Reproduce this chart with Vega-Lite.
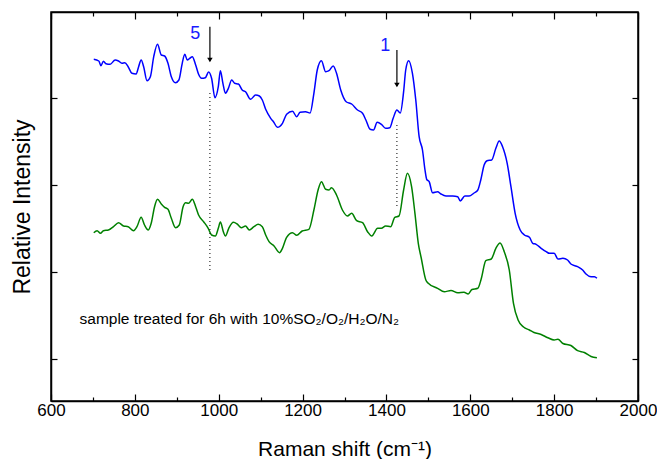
{
  "$schema": "https://vega.github.io/schema/vega-lite/v6.json",
  "width": 587,
  "height": 389,
  "autosize": {"type": "none"},
  "padding": {"left": 51, "top": 12, "right": 19, "bottom": 58},
  "background": "white",
  "config": {
    "font": "Liberation Sans",
    "view": {"stroke": "black", "strokeWidth": 1.5},
    "axis": {"domainColor": "black", "domainWidth": 1.5, "tickColor": "black", "tickWidth": 1.2, "labelColor": "black", "titleColor": "black", "grid": false, "labelFont": "Liberation Sans", "titleFont": "Liberation Sans", "titleFontWeight": "normal"}
  },
  "datasets": {
    "spectra": [
      {"s":"a","x":702,"y":341.7},{"s":"a","x":714,"y":340},{"s":"a","x":719,"y":335.3},{"s":"a","x":725,"y":339.7},{"s":"a","x":731,"y":337.3},{"s":"a","x":741,"y":336.7},{"s":"a","x":753,"y":341},{"s":"a","x":761,"y":340},{"s":"a","x":769,"y":337.7},{"s":"a","x":776,"y":338.3},{"s":"a","x":784,"y":334.3},{"s":"a","x":793,"y":327.7},{"s":"a","x":803,"y":327},{"s":"a","x":809,"y":334.3},{"s":"a","x":815,"y":341},{"s":"a","x":821,"y":334.3},{"s":"a","x":829,"y":320.3},{"s":"a","x":837,"y":324.3},{"s":"a","x":845,"y":344.3},{"s":"a","x":854,"y":356.7},{"s":"a","x":863,"y":346},{"s":"a","x":871,"y":345},{"s":"a","x":879,"y":337.7},{"s":"a","x":887,"y":324.3},{"s":"a","x":897,"y":318.3},{"s":"a","x":905,"y":321},{"s":"a","x":913,"y":337.7},{"s":"a","x":919,"y":346.7},{"s":"a","x":925,"y":341},{"s":"a","x":931,"y":342.7},{"s":"a","x":937,"y":344.3},{"s":"a","x":945,"y":336},{"s":"a","x":952,"y":326.7},{"s":"a","x":959,"y":322.7},{"s":"a","x":968,"y":323.3},{"s":"a","x":976,"y":329},{"s":"a","x":983,"y":322.7},{"s":"a","x":991,"y":303.3},{"s":"a","x":999,"y":314.3},{"s":"a","x":1004,"y":330.3},{"s":"a","x":1010,"y":317.7},{"s":"a","x":1016,"y":307.7},{"s":"a","x":1023,"y":312.7},{"s":"a","x":1031,"y":321},{"s":"a","x":1038,"y":317.7},{"s":"a","x":1047,"y":317},{"s":"a","x":1056,"y":311},{"s":"a","x":1064,"y":309.3},{"s":"a","x":1076,"y":301.7},{"s":"a","x":1088,"y":306},{"s":"a","x":1097,"y":305},{"s":"a","x":1104,"y":301},{"s":"a","x":1112,"y":291.7},{"s":"a","x":1124,"y":282.7},{"s":"a","x":1131,"y":279},{"s":"a","x":1140,"y":273.7},{"s":"a","x":1152,"y":277.7},{"s":"a","x":1162,"y":286.7},{"s":"a","x":1176,"y":289.7},{"s":"a","x":1186,"y":284.3},{"s":"a","x":1194,"y":288.7},{"s":"a","x":1207,"y":289.3},{"s":"a","x":1218,"y":288},{"s":"a","x":1227,"y":307.7},{"s":"a","x":1235,"y":331},{"s":"a","x":1245,"y":340.3},{"s":"a","x":1255,"y":329.3},{"s":"a","x":1263,"y":330.3},{"s":"a","x":1273,"y":335},{"s":"a","x":1281,"y":327.7},{"s":"a","x":1291,"y":311},{"s":"a","x":1304,"y":299.3},{"s":"a","x":1317,"y":297},{"s":"a","x":1331,"y":291},{"s":"a","x":1343,"y":287.7},{"s":"a","x":1351,"y":281},{"s":"a","x":1361,"y":271.7},{"s":"a","x":1369,"y":271},{"s":"a","x":1378,"y":278.7},{"s":"a","x":1388,"y":276.7},{"s":"a","x":1398,"y":272.7},{"s":"a","x":1408,"y":273.3},{"s":"a","x":1416,"y":282.7},{"s":"a","x":1425,"y":291},{"s":"a","x":1433,"y":288},{"s":"a","x":1441,"y":309.3},{"s":"a","x":1446,"y":331},{"s":"a","x":1453,"y":340.3},{"s":"a","x":1462,"y":327.7},{"s":"a","x":1470,"y":301},{"s":"a","x":1478,"y":264.3},{"s":"a","x":1486,"y":251},{"s":"a","x":1492,"y":231},{"s":"a","x":1496,"y":221.7},{"s":"a","x":1502,"y":219.3},{"s":"a","x":1510,"y":208.3},{"s":"a","x":1522,"y":209.3},{"s":"a","x":1530,"y":207},{"s":"a","x":1542,"y":205},{"s":"a","x":1558,"y":205},{"s":"a","x":1570,"y":204.3},{"s":"a","x":1576,"y":200},{"s":"a","x":1587,"y":205},{"s":"a","x":1597,"y":205},{"s":"a","x":1609,"y":208},{"s":"a","x":1618,"y":211},{"s":"a","x":1625,"y":221},{"s":"a","x":1633,"y":236},{"s":"a","x":1640,"y":240.3},{"s":"a","x":1651,"y":241},{"s":"a","x":1661,"y":252.7},{"s":"a","x":1669,"y":260},{"s":"a","x":1677,"y":254.3},{"s":"a","x":1688,"y":237.7},{"s":"a","x":1697,"y":214.3},{"s":"a","x":1707,"y":187.7},{"s":"a","x":1719,"y":171},{"s":"a","x":1729,"y":166},{"s":"a","x":1741,"y":163.7},{"s":"a","x":1749,"y":157.7},{"s":"a","x":1757,"y":156.7},{"s":"a","x":1769,"y":152.7},{"s":"a","x":1781,"y":149.3},{"s":"a","x":1789,"y":147.7},{"s":"a","x":1800,"y":147.7},{"s":"a","x":1809,"y":142},{"s":"a","x":1821,"y":142.7},{"s":"a","x":1832,"y":141},{"s":"a","x":1840,"y":137},{"s":"a","x":1856,"y":134.3},{"s":"a","x":1868,"y":131},{"s":"a","x":1876,"y":127},{"s":"a","x":1888,"y":124.3},{"s":"a","x":1896,"y":124.3},{"s":"a","x":1902,"y":122.7},
      {"s":"b","x":702,"y":168.3},{"s":"b","x":710,"y":170.3},{"s":"b","x":718,"y":167.7},{"s":"b","x":725,"y":170.3},{"s":"b","x":737,"y":171},{"s":"b","x":749,"y":174.3},{"s":"b","x":761,"y":178.3},{"s":"b","x":773,"y":175},{"s":"b","x":784,"y":174.3},{"s":"b","x":797,"y":170.3},{"s":"b","x":805,"y":174.3},{"s":"b","x":815,"y":183.7},{"s":"b","x":823,"y":176},{"s":"b","x":832,"y":171},{"s":"b","x":839,"y":177.7},{"s":"b","x":847,"y":194.3},{"s":"b","x":854,"y":201.7},{"s":"b","x":863,"y":197},{"s":"b","x":871,"y":193.7},{"s":"b","x":879,"y":191.7},{"s":"b","x":887,"y":182.7},{"s":"b","x":897,"y":173.3},{"s":"b","x":906,"y":176},{"s":"b","x":915,"y":194.3},{"s":"b","x":921,"y":198.3},{"s":"b","x":928,"y":197.7},{"s":"b","x":937,"y":201.7},{"s":"b","x":945,"y":194.3},{"s":"b","x":952,"y":186},{"s":"b","x":964,"y":179.3},{"s":"b","x":975,"y":172.7},{"s":"b","x":983,"y":166},{"s":"b","x":992,"y":165},{"s":"b","x":999,"y":172.7},{"s":"b","x":1004,"y":179},{"s":"b","x":1011,"y":169.3},{"s":"b","x":1016,"y":165},{"s":"b","x":1024,"y":172.7},{"s":"b","x":1035,"y":178.7},{"s":"b","x":1044,"y":177},{"s":"b","x":1054,"y":173.3},{"s":"b","x":1064,"y":175},{"s":"b","x":1073,"y":171},{"s":"b","x":1084,"y":174.3},{"s":"b","x":1094,"y":176.7},{"s":"b","x":1104,"y":174.3},{"s":"b","x":1112,"y":166},{"s":"b","x":1120,"y":159.3},{"s":"b","x":1132,"y":155},{"s":"b","x":1145,"y":148.3},{"s":"b","x":1152,"y":152.7},{"s":"b","x":1162,"y":163.7},{"s":"b","x":1176,"y":168.3},{"s":"b","x":1186,"y":165.7},{"s":"b","x":1199,"y":170},{"s":"b","x":1215,"y":171.7},{"s":"b","x":1227,"y":191},{"s":"b","x":1237,"y":211},{"s":"b","x":1245,"y":219.3},{"s":"b","x":1255,"y":211.7},{"s":"b","x":1263,"y":211},{"s":"b","x":1269,"y":213.3},{"s":"b","x":1281,"y":206},{"s":"b","x":1295,"y":191},{"s":"b","x":1307,"y":185},{"s":"b","x":1317,"y":187.7},{"s":"b","x":1329,"y":180.3},{"s":"b","x":1343,"y":178.3},{"s":"b","x":1355,"y":169.3},{"s":"b","x":1365,"y":165},{"s":"b","x":1379,"y":172.7},{"s":"b","x":1388,"y":172.7},{"s":"b","x":1398,"y":175},{"s":"b","x":1410,"y":174.3},{"s":"b","x":1420,"y":183.7},{"s":"b","x":1430,"y":185},{"s":"b","x":1441,"y":211},{"s":"b","x":1450,"y":227.7},{"s":"b","x":1460,"y":214.3},{"s":"b","x":1468,"y":187.7},{"s":"b","x":1476,"y":157.7},{"s":"b","x":1483,"y":143},{"s":"b","x":1494,"y":121},{"s":"b","x":1499,"y":118},{"s":"b","x":1522,"y":112.7},{"s":"b","x":1538,"y":109.3},{"s":"b","x":1554,"y":110.5},{"s":"b","x":1570,"y":108.3},{"s":"b","x":1585,"y":108.7},{"s":"b","x":1595,"y":107},{"s":"b","x":1604,"y":111.5},{"s":"b","x":1618,"y":112.7},{"s":"b","x":1626,"y":122},{"s":"b","x":1637,"y":140.3},{"s":"b","x":1650,"y":142},{"s":"b","x":1661,"y":152.7},{"s":"b","x":1671,"y":158},{"s":"b","x":1681,"y":149.3},{"s":"b","x":1693,"y":131},{"s":"b","x":1703,"y":97.7},{"s":"b","x":1714,"y":81},{"s":"b","x":1727,"y":74},{"s":"b","x":1741,"y":71},{"s":"b","x":1752,"y":68.5},{"s":"b","x":1769,"y":66.5},{"s":"b","x":1785,"y":63.3},{"s":"b","x":1800,"y":61},{"s":"b","x":1809,"y":61.7},{"s":"b","x":1821,"y":57.5},{"s":"b","x":1840,"y":55.5},{"s":"b","x":1856,"y":50.3},{"s":"b","x":1872,"y":48.5},{"s":"b","x":1888,"y":44.5},{"s":"b","x":1902,"y":43.3}
    ],
    "dotted": [{"x":979,"y1":131,"y2":311},{"x":1425,"y1":195,"y2":279}],
    "arrows": [{"x":979,"y1":340,"y2":374.3},{"x":1425,"y1":315,"y2":351}],
    "heads": [{"x":979,"y":341},{"x":1425,"y":316}],
    "peaks": [{"label":"5","x":944,"y":367},{"label":"1","x":1397,"y":355}],
    "note": [{"text":"sample treated for 6h with 10%SO₂/O₂/H₂O/N₂","x":668,"y":82}]
  },
  "resolve": {"axis": {"x": "independent", "y": "independent"}},
  "layer": [
    {
      "data": {"name": "spectra"},
      "mark": {"type": "line", "strokeWidth": 1.5, "interpolate": "monotone"},
      "encoding": {
        "x": {"field": "x", "type": "quantitative", "scale": {"domain": [600, 2000], "nice": false},
          "axis": {"orient": "bottom", "values": [600,700,800,900,1000,1100,1200,1300,1400,1500,1600,1700,1800,1900,2000],
            "labelExpr": "datum.value % 200 === 0 ? datum.label : ''", "format": "d",
            "tickSize": {"condition": {"test": "datum.value % 200 === 0", "value": -7}, "value": -4},
            "labelPadding": 8, "labelFontSize": 17, "labelFlush": false,
            "title": "Raman shift (cm⁻¹)", "titleFontSize": 21, "titlePadding": 20}},
        "y": {"field": "y", "type": "quantitative", "scale": {"domain": [0, 389], "nice": false, "zero": false},
          "axis": {"orient": "left", "values": [42.5,129.5,216.5,303.5], "labels": false, "tickSize": -6,
            "title": "Relative Intensity", "titleFontSize": 23, "titlePadding": 16}},
        "color": {"field": "s", "type": "nominal", "scale": {"domain": ["a","b"], "range": ["#0000ff", "#008000"]}, "legend": null}
      }
    },
    {
      "data": {"name": "dotted"},
      "mark": {"type": "rule", "strokeDash": [1, 3], "color": "black", "strokeWidth": 1},
      "encoding": {
        "x": {"field": "x", "type": "quantitative",
          "axis": {"orient": "top", "values": [600,700,800,900,1000,1100,1200,1300,1400,1500,1600,1700,1800,1900,2000], "labels": false, "title": null,
            "tickSize": {"condition": {"test": "datum.value % 200 === 0", "value": -7}, "value": -4}}},
        "y": {"field": "y1", "type": "quantitative",
          "axis": {"orient": "right", "values": [42.5,129.5,216.5,303.5], "labels": false, "title": null, "tickSize": -6}},
        "y2": {"field": "y2"}
      }
    },
    {
      "data": {"name": "arrows"},
      "mark": {"type": "rule", "color": "black", "strokeWidth": 1.2},
      "encoding": {
        "x": {"field": "x", "type": "quantitative", "axis": null},
        "y": {"field": "y1", "type": "quantitative", "axis": null},
        "y2": {"field": "y2"}
      }
    },
    {
      "data": {"name": "heads"},
      "mark": {"type": "point", "shape": "triangle-down", "filled": true, "color": "black", "size": 30, "opacity": 1},
      "encoding": {
        "x": {"field": "x", "type": "quantitative", "axis": null},
        "y": {"field": "y", "type": "quantitative", "axis": null}
      }
    },
    {
      "data": {"name": "peaks"},
      "mark": {"type": "text", "color": "#1a1aff", "fontSize": 18, "font": "Liberation Sans", "align": "center", "baseline": "middle"},
      "encoding": {
        "x": {"field": "x", "type": "quantitative", "axis": null},
        "y": {"field": "y", "type": "quantitative", "axis": null},
        "text": {"field": "label"}
      }
    },
    {
      "data": {"name": "note"},
      "mark": {"type": "text", "color": "black", "fontSize": 15.5, "font": "Liberation Sans", "align": "left", "baseline": "middle"},
      "encoding": {
        "x": {"field": "x", "type": "quantitative", "axis": null},
        "y": {"field": "y", "type": "quantitative", "axis": null},
        "text": {"field": "text"}
      }
    }
  ]
}
